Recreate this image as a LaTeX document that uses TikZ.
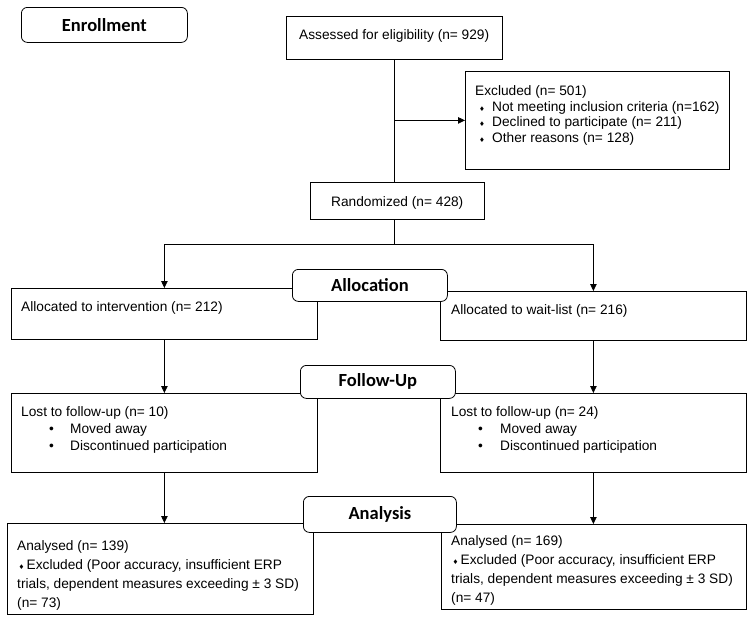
\documentclass[tikz,border=0pt]{standalone}
\usepackage{fontspec}
\setmainfont{Liberation Sans}
\newfontfamily\headfont{Carlito}
\newfontfamily\djv{DejaVu Sans}
\usetikzlibrary{arrows.meta}
\newcommand{\dia}{{\djv\fontsize{6.5}{6.5}\selectfont ♦}}
\begin{document}
\begin{tikzpicture}[x=1pt,y=-1pt,
 box/.style={draw=black, line width=0.8pt, anchor=north west, inner sep=0pt, fill=white},
 head/.style={draw=black, line width=0.8pt, rounded corners=6pt, fill=white, anchor=north west, inner sep=0pt, font=\headfont\bfseries\fontsize{18.5}{20}\selectfont},
 txt/.style={anchor=base west, inner sep=0pt, align=left, font=\fontsize{13.7}{15.5}\selectfont},
 arr/.style={line width=0.8pt, -{Triangle[length=7pt,width=6.5pt]}},
 ln/.style={line width=0.8pt}]
\fill[white] (0,0) rectangle (754,624);
\useasboundingbox (0,0) rectangle (754,624);

% boxes
\node[box, minimum width=216pt, minimum height=43pt] (assess) at (286,16) {};
\node[box, minimum width=264pt, minimum height=98pt] (excl) at (465,71) {};
\node[box, minimum width=174pt, minimum height=37pt] (rand) at (310,182) {};
\node[box, minimum width=306pt, minimum height=51pt] (ai) at (11,288) {};
\node[box, minimum width=306pt, minimum height=49pt] (aw) at (440,291) {};
\node[box, minimum width=306pt, minimum height=79pt] (lostL) at (11,393) {};
\node[box, minimum width=306pt, minimum height=79pt] (lostR) at (440,393) {};
\node[box, minimum width=306pt, minimum height=91pt] (anL) at (7,523) {};
\node[box, minimum width=305pt, minimum height=85pt] (anR) at (441,524) {};

% headings
\node[head, minimum width=166pt, minimum height=35pt] (enroll) at (21,7) {Enrollment};
\node[head, minimum width=155pt, minimum height=32pt] (alloc) at (292,269) {Allocation};
\node[head, minimum width=155pt, minimum height=33pt] (fu) at (300,365) {Follow-Up};
\node[head, minimum width=153pt, minimum height=36pt] (an) at (303,496) {Analysis};

% texts (base anchor = baseline of the last line)
\node[txt] (assesst) at (299,39) {Assessed for eligibility (n= 929)};
\node[txt] (exclt) at (475,142) {Excluded (n= 501)\\
\makebox[17pt][l]{\hspace{4pt}\dia}Not meeting inclusion criteria (n=162)\\
\makebox[17pt][l]{\hspace{4pt}\dia}Declined to participate (n= 211)\\
\makebox[17pt][l]{\hspace{4pt}\dia}Other reasons (n= 128)};
\node[txt] (randt) at (331,206) {Randomized (n= 428)};
\node[txt] (ait) at (21,311) {Allocated to intervention (n= 212)};
\node[txt] (awt) at (451,314) {Allocated to wait-list (n= 216)};
\node[txt, font=\fontsize{13.7}{17}\selectfont] (lostLt) at (21,450.5) {Lost to follow-up (n= 10)\\
\makebox[49pt][l]{\hspace{28pt}•}Moved away\\
\makebox[49pt][l]{\hspace{28pt}•}Discontinued participation};
\node[txt, font=\fontsize{13.7}{17}\selectfont] (lostRt) at (451,450.5) {Lost to follow-up (n= 24)\\
\makebox[49pt][l]{\hspace{27pt}•}Moved away\\
\makebox[49pt][l]{\hspace{27pt}•}Discontinued participation};
\node[txt, font=\fontsize{13.7}{19}\selectfont] (anLt) at (17,607) {Analysed (n= 139)\\
\makebox[9.5pt][l]{\hspace{1.5pt}\dia}Excluded (Poor accuracy, insufficient ERP\\
trials, dependent measures exceeding ± 3 SD)\\
(n= 73)};
\node[txt, font=\fontsize{13.7}{19}\selectfont] (anRt) at (451,602.5) {Analysed (n= 169)\\
\makebox[9.5pt][l]{\hspace{1.5pt}\dia}Excluded (Poor accuracy, insufficient ERP\\
trials, dependent measures exceeding ± 3 SD)\\
(n= 47)};

% connectors
\draw[ln] (assess.south) -- (assess.south |- rand.north);
\draw[arr] (assess.south |- excl.west) -- (excl.west);
\coordinate (split) at ([yshift=-25pt]assess.south |- rand.south);
\draw[ln] (assess.south |- rand.south) -- (split);
\draw[arr] (split) -| (ai.north);
\draw[arr] (split) -| (aw.north);
\draw[arr] (ai.south) -- (lostL.north);
\draw[arr] (aw.south) -- (lostR.north);
\draw[arr] (lostL.south) -- (lostL.south |- anL.north);
\draw[arr] (lostR.south) -- (lostR.south |- anR.north);
\end{tikzpicture}
\end{document}
